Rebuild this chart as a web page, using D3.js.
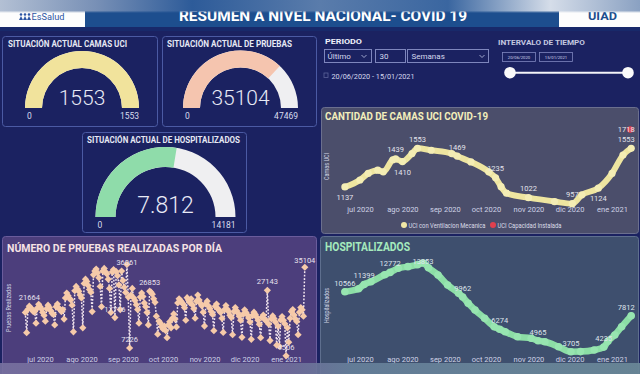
<!DOCTYPE html>
<html>
<head>
<meta charset="utf-8">
<script src="https://cdn.jsdelivr.net/npm/d3@7"></script>
<style>
body { margin: 0; background: #1b2261; overflow: hidden; }
svg { display: block; font-family: Roboto, "Open Sans", sans-serif; }
</style>
</head>
<body>
<svg id="dash" width="640" height="374"></svg>
<script>
// ---- data ----
var gaugeTitles = ["SITUACIÓN ACTUAL CAMAS UCI", "SITUACIÓN ACTUAL DE PRUEBAS", "SITUACIÓN ACTUAL DE HOSPITALIZADOS"];
var gaugeValues = [1553, 35104, 7812];
var gaugeMax = [1553, 47469, 14181];
var gaugeText = ["1553", "35104", "7.812"];

var monthTicks = ["2020-07-01", "2020-08-01", "2020-09-01", "2020-10-01", "2020-11-01", "2020-12-01", "2021-01-01"];
var monthLabels = ["jul 2020", "ago 2020", "sep 2020", "oct 2020", "nov 2020", "dic 2020", "ene 2021"];

var uciDates = ["2020-06-20", "2020-07-01", "2020-07-07", "2020-07-14", "2020-07-18", "2020-07-25", "2020-07-27",
    "2020-08-01", "2020-08-08", "2020-08-12", "2020-08-22", "2020-09-06", "2020-09-10", "2020-09-20",
    "2020-10-03", "2020-10-08", "2020-10-12", "2020-10-16", "2020-11-01", "2020-11-20", "2020-12-03",
    "2020-12-10", "2020-12-22", "2021-01-01", "2021-01-09", "2021-01-15"];
var uciValues = [1137, 1212, 1283, 1318, 1300, 1430, 1439, 1410, 1496, 1553, 1532, 1496, 1469, 1407,
    1300, 1235, 1140, 1070, 1022, 980, 957, 1052, 1124, 1283, 1480, 1553];
var uciLabelDates = ["2020-06-20", "2020-07-27", "2020-08-01", "2020-08-12", "2020-09-10", "2020-10-08", "2020-11-01", "2020-12-03", "2020-12-22", "2021-01-15"];
var uciLabelValues = [1137, 1439, 1410, 1553, 1469, 1235, 1022, 957, 1124, 1553];
var uciCapacityDate = "2021-01-15";
var uciCapacity = 1718;
var uciLegend = ["UCI con Ventilacion Mecanica", "UCI Capacidad Instalada"];

var hospDates = ["2020-06-20", "2020-06-30", "2020-07-04", "2020-07-09", "2020-07-19", "2020-07-23", "2020-07-29",
    "2020-08-05", "2020-08-12", "2020-08-16", "2020-08-20", "2020-08-27", "2020-09-03", "2020-09-11",
    "2020-09-14", "2020-09-18", "2020-09-23", "2020-09-30", "2020-10-07", "2020-10-11", "2020-10-15",
    "2020-10-24", "2020-11-03", "2020-11-08", "2020-11-13", "2020-11-23", "2020-12-02", "2020-12-09",
    "2020-12-19", "2020-12-26", "2020-12-29", "2021-01-03", "2021-01-08", "2021-01-15"];
var hospValues = [10566, 10900, 11399, 11700, 12500, 12772, 13246, 13430, 13650, 13853, 13300, 12480, 11335, 10386,
    9962, 9242, 8475, 7526, 6565, 6274, 5993, 5421, 5238, 4965, 4849, 4277, 3705, 3720,
    3900, 4235, 4900, 5616, 6565, 7812];
var hospLabelValues = [10566, 11399, 12772, 13853, 9962, 6274, 4965, 3705, 4235, 7812];

// daily tests, 20/06/2020 .. 15/01/2021 (one row per week)
var pruebasStart = "2020-06-20";
var pruebasValues = [
    19500, 12500, 20600, 21664, 21100, 20400, 19800,
    19800, 15800, 21000, 22300, 21500, 20800, 19500,
    18500, 16500, 20800, 22000, 21200, 20100, 19200,
    18800, 15200, 21500, 22400, 21000, 20500, 19800,
    20500, 17200, 24500, 26200, 25300, 24400, 23800,
    22000, 12800, 27000, 28500, 27600, 26800, 25500,
    24500, 14200, 29500, 31000, 30200, 28800, 27400,
    26500, 19800, 32500, 33800, 34500, 33200, 31500,
    28500, 21500, 33800, 34700, 33500, 32800, 31000,
    27800, 19500, 33500, 34300, 17716, 33600, 32200,
    29000, 20500, 33800, 30500, 28200, 26400, 36061,
    24800, 7226, 25500, 27800, 24500, 23600, 22200,
    20500, 15800, 24800, 26200, 25000, 22800, 21500,
    19500, 15200, 26853, 26500, 25800, 24200, 23000,
    18200, 12000, 16500, 15800, 14500, 13800, 14800,
    13200, 10800, 15200, 16300, 14200, 17500, 19000,
    17200, 14500, 22800, 24200, 23600, 23000, 22400,
    21200, 16800, 24600, 23800, 22900, 24200, 22100,
    20800, 17500, 23400, 25500, 23800, 22600, 21800,
    19600, 14800, 22500, 23400, 21700, 20900, 19800,
    18800, 13200, 21600, 22400, 20800, 20200, 19500,
    17500, 12600, 20500, 21900, 20600, 19800, 18500,
    17800, 11800, 19800, 21200, 20100, 19300, 18200,
    16800, 10900, 18900, 20400, 19500, 18700, 17600,
    16200, 10200, 18500, 19600, 18800, 17900, 16800,
    15400, 10800, 17800, 18600, 17200, 16600, 27143,
    15500, 9800, 17300, 18300, 17400, 16200, 8200,
    14800, 7800, 16900, 18100, 16800, 15600, 4506,
    14200, 9200, 17500, 19800, 20500, 18600, 17200,
    16400, 11800, 19600, 21200, 20400, 18200, 35104
];
var pruebasLabelValues = [21664, 36061, 17716, 7226, 26853, 27143, 4506, 35104];

var parse = d3.timeParse("%Y-%m-%d");
var svg = d3.select("#dash");
var defs = svg.append("defs");

// ---- background + header ----
svg.append("rect").attr("width", 640).attr("height", 374).attr("fill", "#1b2261");
svg.append("rect").attr("y", 10).attr("width", 640).attr("height", 17).attr("fill", "#1d4e8e");
svg.append("rect").attr("y", 27).attr("width", 640).attr("height", 4).attr("fill", "#18296a");

svg.append("text").attr("x", 179).attr("y", 21)
    .attr("textLength", 288).attr("lengthAdjust", "spacingAndGlyphs")
    .attr("font-size", 15).attr("font-weight", "bold").attr("fill", "#ffffff")
    .text("RESUMEN A NIVEL NACIONAL- COVID 19");

svg.append("rect").attr("x", 0).attr("y", 11).attr("width", 85).attr("height", 16).attr("fill", "#fdfdfd");
var logo = svg.append("g").attr("fill", "#2c55a4");
[21, 25, 29].forEach(function (cx) {
    logo.append("circle").attr("cx", cx).attr("cy", 14.5).attr("r", 1.3);
    logo.append("path").attr("d", `M${cx - 2},20 L${cx},16 L${cx + 2},20 Z`);
});
svg.append("text").attr("x", 31.5).attr("y", 20).attr("textLength", 33).attr("lengthAdjust", "spacingAndGlyphs")
    .attr("font-size", 9).attr("fill", "#2c55a4").text("EsSalud");

svg.append("rect").attr("x", 559).attr("y", 11).attr("width", 81).attr("height", 16).attr("fill", "#fdfdfd");
svg.append("text").attr("x", 588).attr("y", 19.5).attr("textLength", 29).attr("lengthAdjust", "spacingAndGlyphs")
    .attr("font-size", 11).attr("font-weight", "bold").attr("fill", "#1d4e8e").text("UIAD");

// blurred glare strip from the photo
var glare = defs.append("linearGradient").attr("id", "glare");
[["0%", "#b3c0d4"], ["15%", "#7890b6"], ["30%", "#2d5b99"], ["50%", "#5a7cab"], ["70%", "#3a66a0"],
 ["86%", "#d5dde9"], ["100%", "#8aa1c2"]].forEach(function (s) {
    glare.append("stop").attr("offset", s[0]).attr("stop-color", s[1]);
});
var fade = defs.append("linearGradient").attr("id", "fade").attr("x1", 0).attr("x2", 0).attr("y1", 0).attr("y2", 1);
fade.append("stop").attr("offset", "0%").attr("stop-color", "#fff").attr("stop-opacity", 1);
fade.append("stop").attr("offset", "82%").attr("stop-color", "#fff").attr("stop-opacity", 1);
fade.append("stop").attr("offset", "100%").attr("stop-color", "#fff").attr("stop-opacity", 0);
var fadeMask = defs.append("mask").attr("id", "fadeMask");
fadeMask.append("rect").attr("width", 640).attr("height", 13).attr("fill", "url(#fade)");
svg.append("rect").attr("width", 640).attr("height", 13).attr("fill", "url(#glare)").attr("mask", "url(#fadeMask)");

// ---- panels ----
function panel(x, y, w, h, fill, stroke) {
    svg.append("rect").attr("x", x).attr("y", y).attr("width", w).attr("height", h)
        .attr("rx", 3).attr("fill", fill).attr("stroke", stroke).attr("stroke-width", 1);
}
panel(2.5, 36.5, 155, 90, "#1b2261", "#4b5aa3");
panel(162.5, 36.5, 154, 90, "#1b2261", "#4b5aa3");
panel(82.5, 132.5, 164, 100, "#1b2261", "#4b5aa3");
panel(321.5, 107.5, 317, 126, "#4b4e6b", "#6b6f8e");
panel(2.5, 236.5, 314, 142, "#4c3e7c", "#6a5c9c");
panel(320.5, 236.5, 318, 142, "#3e4f6e", "#5e6f8e");

// ---- gauges ----
var gaugeCenters = [[82, 108], [240.5, 108], [165.5, 217]];
var gaugeRadii = [[40, 57], [40.5, 57.5], [50, 70]];
var gaugeColors = ["#f1e39c", "#f5c5af", "#8fdcaa"];
var gaugeTitlePos = [[8, 47, 119], [167, 47, 125], [87, 143, 153]];
var gaugeValueSize = [21, 21, 23];
var gaugeValueY = [105, 105, 213];
var gaugeLabelY = [119, 119, 228];

gaugeTitles.forEach(function (t, i) {
    var tp = gaugeTitlePos[i];
    svg.append("text").attr("x", tp[0]).attr("y", tp[1])
        .attr("textLength", tp[2]).attr("lengthAdjust", "spacingAndGlyphs")
        .attr("font-size", 9.5).attr("font-weight", "bold").attr("fill", "#e6e8f4").text(t);

    var c = gaugeCenters[i], r = gaugeRadii[i];
    var g = svg.append("g").attr("transform", `translate(${c[0]},${c[1]})`);
    var angle = d3.scaleLinear().domain([0, gaugeMax[i]]).range([-Math.PI / 2, Math.PI / 2]);
    var arc = d3.arc().innerRadius(r[0]).outerRadius(r[1]);
    g.append("path").attr("d", arc({ startAngle: -Math.PI / 2, endAngle: Math.PI / 2 })).attr("fill", "#efeff1");
    g.append("path").attr("d", arc({ startAngle: -Math.PI / 2, endAngle: angle(gaugeValues[i]) })).attr("fill", gaugeColors[i]);

    svg.append("text").attr("x", c[0]).attr("y", gaugeValueY[i]).attr("text-anchor", "middle")
        .attr("font-family", "'Roboto Light', 'Lato Light', 'Open Sans Light', Roboto, sans-serif")
        .attr("font-size", gaugeValueSize[i]).attr("font-weight", 300).attr("fill", "#e8eaf6").text(gaugeText[i]);
    svg.append("text").attr("x", c[0] - r[1] + 2).attr("y", gaugeLabelY[i])
        .attr("font-size", 8.5).attr("fill", "#d8dcee").text("0");
    svg.append("text").attr("x", c[0] + r[1]).attr("y", gaugeLabelY[i]).attr("text-anchor", "end")
        .attr("font-size", 8.5).attr("fill", "#d8dcee").text(d3.format("d")(gaugeMax[i]));
});

// ---- filters ----
var ctrl = svg.append("g").attr("font-size", 8).attr("fill", "#d6d9ee");
ctrl.append("text").attr("x", 325).attr("y", 44).attr("font-weight", "bold").attr("fill", "#eef0fa")
    .attr("textLength", 37).attr("lengthAdjust", "spacingAndGlyphs").text("PERIODO");
[[324.5, 47], [375.5, 30], [407.5, 81]].forEach(function (b) {
    ctrl.append("rect").attr("x", b[0]).attr("y", 49.5).attr("width", b[1]).attr("height", 13)
        .attr("fill", "none").attr("stroke", "#7e86bd");
});
ctrl.append("text").attr("x", 327.5).attr("y", 59).text("Último");
ctrl.append("text").attr("x", 379.5).attr("y", 59).text("30");
ctrl.append("text").attr("x", 411.5).attr("y", 59).text("Semanas");
[364, 482].forEach(function (cx) {
    ctrl.append("path").attr("d", `M${cx - 2.5},55 L${cx},57.5 L${cx + 2.5},55`)
        .attr("fill", "none").attr("stroke", "#aeb3d8").attr("stroke-width", 0.9);
});
ctrl.append("rect").attr("x", 324).attr("y", 73).attr("width", 4).attr("height", 4.5)
    .attr("fill", "none").attr("stroke", "#5b6399").attr("stroke-width", 0.8);
ctrl.append("text").attr("x", 331.5).attr("y", 78.5).attr("textLength", 83).attr("lengthAdjust", "spacingAndGlyphs")
    .text("20/06/2020 - 15/01/2021");
ctrl.append("text").attr("x", 498).attr("y", 44.5).attr("font-weight", "bold").attr("fill", "#c3c7e0")
    .attr("textLength", 87).attr("lengthAdjust", "spacingAndGlyphs").text("INTERVALO DE TIEMPO");
[[502.5, "20/06/2020"], [539.5, "15/01/2021"]].forEach(function (b) {
    ctrl.append("rect").attr("x", b[0]).attr("y", 52.5).attr("width", 33).attr("height", 9)
        .attr("fill", "none").attr("stroke", "#7e86bd").attr("stroke-width", 0.8);
    ctrl.append("text").attr("x", b[0] + 16.5).attr("y", 58.8).attr("text-anchor", "middle")
        .attr("font-size", 4.2).text(b[1]);
});
ctrl.append("line").attr("x1", 510).attr("x2", 628).attr("y1", 72.7).attr("y2", 72.7)
    .attr("stroke", "#f4f4f8").attr("stroke-width", 2);
[510, 628].forEach(function (cx) {
    ctrl.append("circle").attr("cx", cx).attr("cy", 72.7).attr("r", 5.8).attr("fill", "#fafafa");
});

// ---- shared helpers ----
function monthAxis(g, x, y) {
    var axis = d3.axisBottom(x)
        .tickValues(monthTicks.map(parse))
        .tickFormat(function (d, i) { return monthLabels[i]; })
        .tickSize(0).tickPadding(3);
    var a = g.append("g").attr("transform", `translate(0,${y})`).call(axis);
    a.select(".domain").remove();
    a.selectAll("text").attr("font-size", 7.5).attr("fill", "#cfd2e6").attr("font-family", "Roboto, sans-serif");
}
function yTitle(g, cx, cy, len, txt) {
    g.append("text").attr("transform", `translate(${cx},${cy}) rotate(-90)`)
        .attr("text-anchor", "middle").attr("font-size", 6.3).attr("fill", "#d2d5e6")
        .attr("textLength", len).attr("lengthAdjust", "spacingAndGlyphs").text(txt);
}
function chartTitle(x, y, len, size, color, txt) {
    svg.append("text").attr("x", x).attr("y", y).attr("textLength", len).attr("lengthAdjust", "spacingAndGlyphs")
        .attr("font-size", size).attr("font-weight", "bold").attr("fill", color).text(txt);
}

// ---- UCI chart ----
var uciG = svg.append("g");
chartTitle(325, 119.5, 163, 11, "#f3eebb", "CANTIDAD DE CAMAS UCI COVID-19");
var xUci = d3.scaleTime().domain([parse("2020-06-20"), parse("2021-01-15")]).range([344.9, 631.2]);
var yUci = d3.scaleLinear().domain([900, 1750]).range([209, 130]);
var uciData = uciDates.map(function (d, i) { return { date: parse(d), value: uciValues[i] }; });
monthAxis(uciG, xUci, 203.5);
yTitle(uciG, 328.5, 166.5, 27, "Camas UCI");

var uciLine = d3.line().curve(d3.curveMonotoneX)
    .x(function (d) { return xUci(d.date); }).y(function (d) { return yUci(d.value); });
uciG.append("path").datum(uciData).attr("d", uciLine)
    .attr("fill", "none").attr("stroke", "#eee5a0").attr("stroke-width", 6).attr("stroke-linecap", "round");
uciG.selectAll("circle.pt").data(uciData).enter().append("circle").attr("class", "pt")
    .attr("cx", function (d) { return xUci(d.date); }).attr("cy", function (d) { return yUci(d.value); })
    .attr("r", 3.6).attr("fill", "#f4edb4");

var uciBelow = [true, false, true, false, false, false, false, false, true, false];
uciLabelDates.forEach(function (d, i) {
    uciG.append("text").attr("x", xUci(parse(d)) - (i == uciLabelDates.length - 1 ? 5 : 0))
        .attr("y", yUci(uciLabelValues[i]) + (uciBelow[i] ? 13 : -6.5))
        .attr("text-anchor", "middle").attr("font-size", 7.5).attr("fill", "#e4e4ec").text(uciLabelValues[i]);
});
uciG.append("circle").attr("cx", xUci(parse(uciCapacityDate)) - 1).attr("cy", yUci(uciCapacity) - 3.5)
    .attr("r", 3.2).attr("fill", "#e0404e");
uciG.append("text").attr("x", xUci(parse(uciCapacityDate)) - 5).attr("y", yUci(uciCapacity) - 1)
    .attr("text-anchor", "middle").attr("font-size", 7.5).attr("fill", "#e4e4ec").text(uciCapacity);

uciG.append("circle").attr("cx", 404).attr("cy", 225).attr("r", 3).attr("fill", "#f1e8a6");
uciG.append("text").attr("x", 408.5).attr("y", 227.5).attr("font-size", 7).attr("fill", "#dcdde8")
    .attr("textLength", 77).attr("lengthAdjust", "spacingAndGlyphs").text(uciLegend[0]);
uciG.append("circle").attr("cx", 493).attr("cy", 225).attr("r", 3).attr("fill", "#e0404e");
uciG.append("text").attr("x", 497.5).attr("y", 227.5).attr("font-size", 7).attr("fill", "#dcdde8")
    .attr("textLength", 64).attr("lengthAdjust", "spacingAndGlyphs").text(uciLegend[1]);

// ---- pruebas chart ----
var prG = svg.append("g");
chartTitle(7, 251.5, 215, 11.5, "#f6e2e4", "NÚMERO DE PRUEBAS REALIZADAS POR DÍA");
var xPr = d3.scaleTime().domain([parse("2020-06-20"), parse("2021-01-15")]).range([25.3, 304.8]);
var yPr = d3.scaleLinear().domain([0, 40000]).range([368.9, 253.1]);
var prData = pruebasValues.map(function (v, i) {
    return { date: d3.timeDay.offset(parse(pruebasStart), i), value: v };
});
monthAxis(prG, xPr, 353.5);
yTitle(prG, 11, 308, 48, "Pruebas Realizadas");

var prLine = d3.line()
    .x(function (d) { return xPr(d.date); }).y(function (d) { return yPr(d.value); });
prG.append("path").datum(prData).attr("d", prLine)
    .attr("fill", "none").attr("stroke", "#f3e6ef").attr("stroke-width", 1.5).attr("stroke-dasharray", "1.8,1.6");
prG.selectAll("path.dm").data(prData).enter().append("path").attr("class", "dm")
    .attr("transform", function (d) { return `translate(${xPr(d.date)},${yPr(d.value)})`; })
    .attr("d", "M0,-3.6L3.6,0L0,3.6L-3.6,0Z").attr("fill", "#f6caa9");
var prLabelDy = [-6, 0.5, -6, -6, -6, -6, -6, -4];
prData.filter(function (d) { return pruebasLabelValues.indexOf(d.value) >= 0; }).forEach(function (d) {
    prG.append("text").attr("x", xPr(d.date))
        .attr("y", yPr(d.value) + prLabelDy[pruebasLabelValues.indexOf(d.value)])
        .attr("text-anchor", "middle").attr("font-size", 7.5).attr("fill", "#e8e2ee").text(d.value);
});

// ---- hospitalizados chart ----
var hoG = svg.append("g");
chartTitle(325, 250.5, 85, 12, "#a5eabd", "HOSPITALIZADOS");
var xHo = d3.scaleTime().domain([parse("2020-06-20"), parse("2021-01-15")]).range([344.9, 631.2]);
var yHo = d3.scaleLinear().domain([3000, 14500]).range([357.9, 257.3]);
var hoData = hospDates.map(function (d, i) { return { date: parse(d), value: hospValues[i] }; });
monthAxis(hoG, xHo, 353.5);
yTitle(hoG, 329, 305.5, 35, "Hospitalizados");

var hoLine = d3.line().curve(d3.curveMonotoneX)
    .x(function (d) { return xHo(d.date); }).y(function (d) { return yHo(d.value); });
hoG.append("path").datum(hoData).attr("d", hoLine)
    .attr("fill", "none").attr("stroke", "#8cdea6").attr("stroke-width", 6.5).attr("stroke-linecap", "round");
hoG.selectAll("circle.pt").data(hoData).enter().append("circle").attr("class", "pt")
    .attr("cx", function (d) { return xHo(d.date); }).attr("cy", function (d) { return yHo(d.value); })
    .attr("r", 3.8).attr("fill", "#97e5b0");
var hoLabelDy = [-6, -6, -6, 1.5, -6, -6, -6, -6, -6, -6];
hoData.filter(function (d) { return hospLabelValues.indexOf(d.value) >= 0; }).forEach(function (d, i, arr) {
    hoG.append("text").attr("x", xHo(d.date) - (i == arr.length - 1 ? 5 : 0)).attr("y", yHo(d.value) + hoLabelDy[i])
        .attr("text-anchor", "middle").attr("font-size", 7.5).attr("fill", "#dfe4ec").text(d.value);
});

// ---- blurred bottom edge of the photo ----
var band = defs.append("linearGradient").attr("id", "band");
[["0%", "#77709f"], ["45%", "#6f6c9a"], ["55%", "#66809a"], ["100%", "#6a8898"]].forEach(function (s) {
    band.append("stop").attr("offset", s[0]).attr("stop-color", s[1]);
});
svg.append("rect").attr("y", 363).attr("width", 640).attr("height", 11).attr("fill", "url(#band)").attr("opacity", 0.92);
</script>
</body>
</html>
